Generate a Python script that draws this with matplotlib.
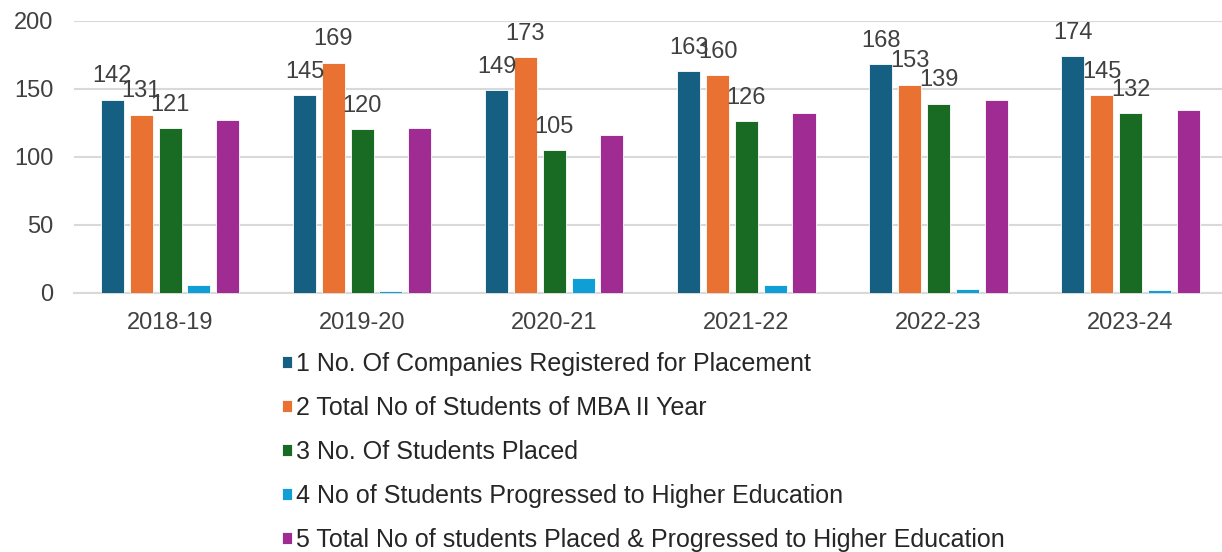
import numpy as np
import matplotlib
matplotlib.use('Agg')
import matplotlib.pyplot as plt

plt.rcParams['font.family'] = ['Liberation Sans', 'DejaVu Sans']

years = ['2018-19', '2019-20', '2020-21', '2021-22', '2022-23', '2023-24']
companies = [142, 145, 149, 163, 168, 174]
total_mba = [131, 169, 173, 160, 153, 145]
placed = [121, 120, 105, 126, 139, 132]
higher_edu = [6, 1, 11, 6, 3, 2]
placed_and_higher = [127, 121, 116, 132, 142, 134]

series_names = ['1 No. Of Companies Registered for Placement',
                '2 Total No of Students of MBA II Year',
                '3 No. Of Students Placed',
                '4 No of Students Progressed to Higher Education',
                '5 Total No of students Placed & Progressed to Higher Education']
series = [companies, total_mba, placed, higher_edu, placed_and_higher]
colors = ['#156082', '#E97132', '#196B24', '#0F9ED5', '#A02B93']
labelled = [True, True, True, False, False]

W, H = 1222, 552
fig = plt.figure(figsize=(W / 100, H / 100), dpi=100)
ax = fig.add_axes([74 / W, 1 - 292.7 / H, (W - 74) / W, 272 / H])

x = np.arange(len(years))
bw = 0.12
step = 0.15
handles = []
for i, (vals, c) in enumerate(zip(series, colors)):
    pos = x + (i - 2) * step
    b = ax.bar(pos, vals, width=bw, color=c, edgecolor='white', linewidth=0.6,
               label=series_names[i], zorder=3)
    handles.append(b)
    if labelled[i]:
        for px, v in zip(pos, vals):
            ax.annotate(str(v), (px, v), xytext=(0, 12.5), textcoords='offset points',
                        ha='center', va='baseline', fontsize=17, color='#404040', zorder=4)

ax.set_ylim(0, 200)
ax.set_xlim(-0.5, 5.476)
ax.set_yticks([0, 50, 100, 150, 200])
ax.set_xticks(x)
ax.set_xticklabels(years)
ax.tick_params(axis='both', length=0, labelsize=17, colors='#404040')
ax.tick_params(axis='y', pad=15)
ax.tick_params(axis='x', pad=14)
ax.yaxis.grid(True, color='#D9D9D9', linewidth=1.5, zorder=0)
for s in ['left', 'right', 'top']:
    ax.spines[s].set_visible(False)
ax.spines['bottom'].set_color('#D9D9D9')
ax.spines['bottom'].set_linewidth(1.5)

fig.legend(handles=handles, loc='upper left', bbox_to_anchor=(282 / W, 1 - 352 / H),
           frameon=False, fontsize=18, handlelength=0.4, handleheight=0.4,
           handletextpad=0.18, labelspacing=0.80, borderpad=0, borderaxespad=0,
           labelcolor='#262626')

fig.savefig('out.png', dpi=100)
